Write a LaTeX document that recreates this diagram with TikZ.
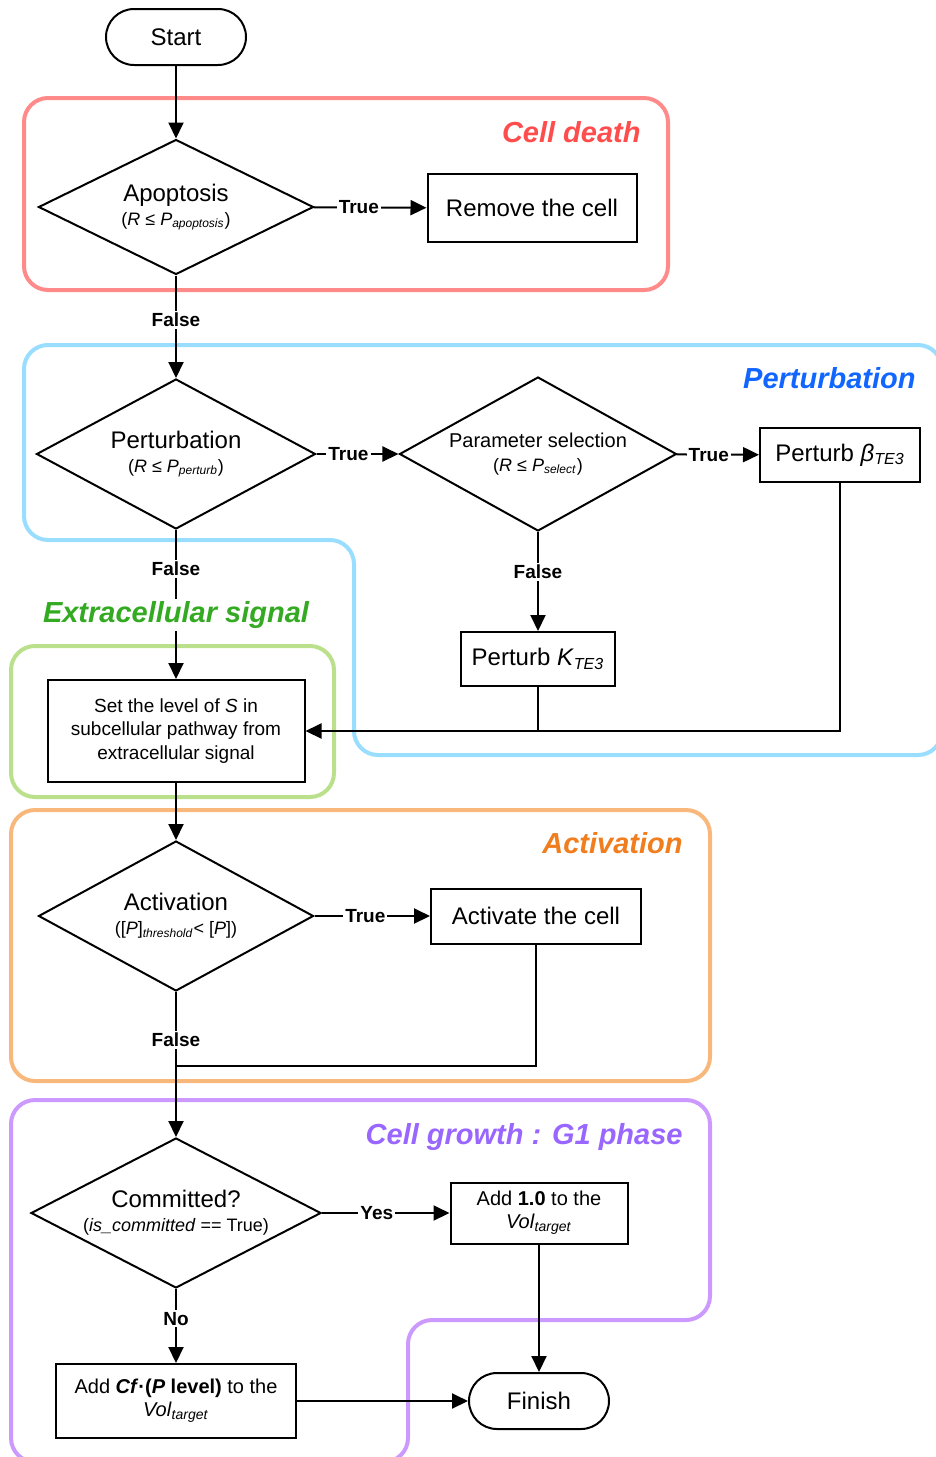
\documentclass[tikz,border=0pt]{standalone}
\usepackage{fontspec}
\setmainfont{Liberation Sans}
\usetikzlibrary{shapes.geometric,arrows.meta}
\definecolor{deathline}{RGB}{255,138,138}
\definecolor{deathtext}{RGB}{255,77,77}
\definecolor{pertline}{RGB}{153,221,255}
\definecolor{perttext}{RGB}{17,102,255}
\definecolor{extraline}{RGB}{187,224,140}
\definecolor{extratext}{RGB}{51,170,34}
\definecolor{actline}{RGB}{248,184,124}
\definecolor{acttext}{RGB}{240,125,30}
\definecolor{growline}{RGB}{204,153,255}
\definecolor{growtext}{RGB}{153,102,255}
\tikzset{
  decision/.style={
    shape = diamond,
    draw,
    fill = white,
    line width = 1pt,
    inner sep = 0pt,
    align = center,
    font = \fontsize{12}{13}\selectfont
  },
  process/.style={
    draw,
    fill = white,
    line width = 1pt,
    inner sep = 0pt,
    align = center,
    font = \fontsize{12}{13}\selectfont
  },
  terminal/.style={
    draw,
    fill = white,
    line width = 1pt,
    rounded corners = 14pt,
    minimum width = 70pt,
    minimum height = 28pt,
    font = \fontsize{12}{13}\selectfont
  },
  region/.style={
    line width = 2pt,
    rounded corners = 12pt
  },
  regiontitle/.style={
    fill = white,
    inner sep = 1pt,
    font = \bfseries\itshape\fontsize{14.5}{17}\selectfont
  },
  branch/.style={
    fill = white,
    inner sep = 1pt,
    font = \bfseries\fontsize{9.5}{11}\selectfont
  },
  flow/.style={
    line width = 1pt,
    -{Triangle[length=8pt,width=7.5pt]}
  },
  every picture/.style = {
    x = 0.5pt,
    y = -0.5pt
  }
}
\newcommand{\cond}[1]{{\fontsize{9}{11}\selectfont #1}}
\newcommand{\lowsub}[1]{\textsubscript{\textit{#1}}}

\begin{document}
\begin{tikzpicture}
    \useasboundingbox (0,0) rectangle (936,1457);
    % regions
    \draw[region, deathline] (24,98) rectangle (668,290);
    \draw[region, pertline] (24,345) -- (942,345) -- (942,755) -- (354,755) -- (354,540) -- (24,540) -- cycle;
    \draw[region, extraline] (11,646) rectangle (334,797);
    \draw[region, actline] (11,810) rectangle (710,1081);
    \draw[region, growline] (11,1100) -- (710,1100) -- (710,1320) -- (408,1320) -- (408,1462) -- (11,1462) -- cycle;

    % steps
    \node[terminal] (start) at (176,37) {Start};
    \node[decision, shape aspect=2.04, minimum width=137.5pt, minimum height=67.5pt] (apop) at (176,207)
        {Apoptosis\\[-1pt]\cond{(\textit{R} ≤ \textit{P}\lowsub{apoptosis})}};
    \node[process, minimum width=104.5pt, minimum height=34pt] (remove) at (532,208) {Remove the cell};
    \node[decision, shape aspect=1.86, minimum width=139.5pt, minimum height=75pt] (pert) at (176,454)
        {Perturbation\\[-1pt]\cond{(\textit{R} ≤ \textit{P}\lowsub{perturb})}};
    \node[decision, shape aspect=1.8, minimum width=138.5pt, minimum height=77pt, font=\fontsize{10}{12}\selectfont] (param) at (538,454)
        {Parameter selection\\\cond{(\textit{R} ≤ \textit{P}\lowsub{select})}};
    \node[process, minimum width=80pt, minimum height=27pt] (beta) at (840,455) {Perturb \textit{β}\lowsub{TE3}};
    \node[process, minimum width=77pt, minimum height=27pt] (kte) at (538,659) {Perturb \textit{K}\lowsub{TE3}};
    \node[process, minimum width=128.5pt, minimum height=51pt, font=\fontsize{9.5}{11.75}\selectfont] (setS) at (176,731)
        {Set the level of \textit{S} in\\subcellular pathway from\\extracellular signal};
    \node[decision, shape aspect=1.83, minimum width=137.5pt, minimum height=75pt] (actdec) at (176,916)
        {Activation\\[-1pt]\cond{([\textit{P}]\lowsub{threshold}< [\textit{P}])}};
    \node[process, minimum width=105pt, minimum height=27.5pt] (activate) at (536,916) {Activate the cell};
    \node[decision, shape aspect=1.93, minimum width=145pt, minimum height=75pt] (commit) at (176,1213)
        {Committed?\\[-1pt]\cond{(\textit{is\_committed} == True)}};
    \node[process, minimum width=88.5pt, minimum height=30.5pt, font=\fontsize{10}{11.5}\selectfont] (addone) at (539,1213)
        {Add \textbf{1.0} to the\\\textit{Vol}\lowsub{target}};
    \node[process, minimum width=120pt, minimum height=37pt, font=\fontsize{10}{11.5}\selectfont] (addcf) at (176,1401)
        {Add \textbf{\textit{Cf}·(\textit{P} level)} to the\\\textit{Vol}\lowsub{target}};
    \node[terminal] (finish) at (539,1401) {Finish};
    \coordinate (merge) at (176,1066);

    % connectors
    \draw[flow] (start) -- (apop);
    \draw[flow] (apop) -- node[branch, pos=0.4] {True} (remove);
    \draw[flow] (apop) -- node[branch, pos=0.43] {False} (pert);
    \draw[flow] (pert) -- node[branch, pos=0.39] {True} (param);
    \draw[flow] (param) -- node[branch, pos=0.39] {True} (beta);
    \draw[flow] (param) -- node[branch, pos=0.4] {False} (kte);
    \draw[flow] (pert) -- node[branch, pos=0.26] {False} (setS);
    \draw[line width=1pt] (kte.south) -- (kte.south |- setS.east);
    \draw[flow] (beta.south) |- (setS.east);
    \draw[flow] (setS) -- (actdec);
    \draw[flow] (actdec) -- node[branch, pos=0.44] {True} (activate);
    \draw[line width=1pt] (activate.south) |- (merge);
    \draw[flow] (actdec) -- node[branch, pos=0.33] {False} (commit);
    \draw[flow] (commit) -- node[branch, pos=0.43] {Yes} (addone);
    \draw[flow] (commit) -- node[branch, pos=0.4] {No} (addcf);
    \draw[flow] (addone) -- (finish);
    \draw[flow] (addcf) -- (finish);

    % region titles
    \node[regiontitle, text=deathtext, anchor=east] (deathtitle) at (643,132) {Cell death};
    \node[regiontitle, text=perttext, anchor=east] (perttitle) at (918,378) {Perturbation};
    \node[regiontitle, text=extratext] (extratitle) at (176,615) {Extracellular signal};
    \node[regiontitle, text=acttext, anchor=east] (acttitle) at (685,843) {Activation};
    \node[regiontitle, text=growtext, anchor=east] (growtitle) at (685,1137) {Cell growth : G1 phase};
\end{tikzpicture}
\end{document}
